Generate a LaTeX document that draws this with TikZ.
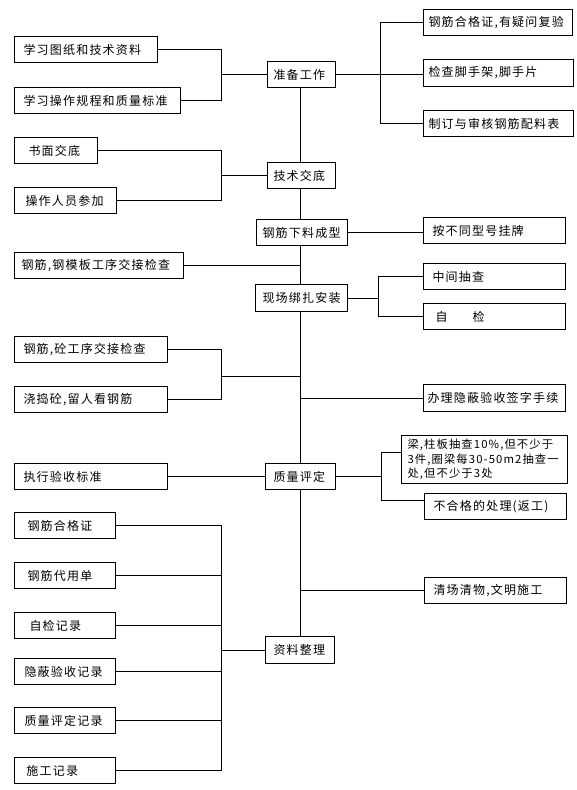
\documentclass[tikz,border=0pt]{standalone}
\usepackage{fontspec}
\setmainfont{Noto Sans CJK SC}[LetterSpace=10]
\tikzset{
  bxs/.style={draw, line width=1pt, fill=white, font=\fontsize{12}{14}\selectfont, align=left, inner ysep=1pt},
  ln/.style={line width=1pt}
}
\newcommand\mybox[7]{%
  \pgfmathsetmacro\mtw{#4-#2-2*#6}%
  \pgfmathsetmacro\mht{#5-#3}%
  \node[bxs, inner xsep=#6pt, text width=\mtw pt, minimum height=\mht pt, anchor=north west] (#1) at (#2,-#3) {#7};}
\begin{document}
\begin{tikzpicture}[x=1pt,y=1pt]
\useasboundingbox (0,0) rectangle (576,-790);
% left boxes
\mybox{a1}{14}{36}{157}{62}{9}{学习图纸和技术资料}
\mybox{a2}{14}{87}{180}{113}{9}{学习操作规程和质量标准}
\mybox{a3}{14}{137}{97}{163}{14}{书面交底}
\mybox{a4}{14}{187}{116}{213}{11}{操作人员参加}
\mybox{a5}{14}{252}{183}{278}{7}{钢筋,钢模板工序交接检查}
\mybox{a6}{14}{336}{167}{362}{9}{钢筋,砼工序交接检查}
\mybox{a7}{14}{386}{167}{412}{9}{浇捣砼,留人看钢筋}
\mybox{a8}{14}{463}{167}{489}{9}{执行验收标准}
\mybox{a9}{14}{512}{115}{538}{13}{钢筋合格证}
\mybox{a10}{14}{562}{115}{588}{13}{钢筋代用单}
\mybox{a11}{14}{612}{115}{638}{15}{自检记录}
\mybox{a12}{14}{658}{115}{684}{10}{隐蔽验收记录}
\mybox{a13}{14}{707}{115}{733}{10}{质量评定记录}
\mybox{a14}{14}{757}{115}{783}{12}{施工记录}
% centre boxes
\mybox{c1}{267}{61}{335}{87}{6}{准备工作}
\mybox{c2}{267}{162}{335}{188}{6}{技术交底}
\mybox{c3}{256}{219}{347}{245}{6}{钢筋下料成型}
\mybox{c4}{255}{284}{347}{311}{7}{现场绑扎安装}
\mybox{c5}{265}{463}{335}{489}{8}{质量评定}
\mybox{c6}{265}{636}{334}{663}{8}{资料整理}
% right boxes
\mybox{r1}{423}{9}{572}{35}{5}{钢筋合格证,有疑问复验}
\mybox{r2}{423}{59}{573}{86}{5}{检查脚手架,脚手片}
\mybox{r3}{423}{110}{573}{136}{5}{制订与审核钢筋配料表}
\mybox{r4}{423}{217}{565}{243}{9}{按不同型号挂牌}
\mybox{r5}{423}{263}{565}{289}{9}{中间抽查}
\mybox{r6}{423}{303}{565}{329}{12}{自\hspace{25pt}检}
\mybox{r7}{423}{384}{565}{411}{4}{办理隐蔽验收签字手续}
\mybox{r8}{401}{435}{567}{483}{6}{\fontsize{11.3}{14.5}\selectfont\mbox{梁,柱板抽查10\%,但不少于}\\\mbox{3件,圈梁每30-50m2抽查一}\\\mbox{处,但不少于3处}}
\mybox{r9}{424}{493}{566}{519}{9}{不合格的处理(返工)}
\mybox{r10}{424}{577}{566}{603}{9}{清场清物,文明施工}
% helper coordinates
\coordinate (bl) at (221,0);
\coordinate (sp) at (300.5,0);
\coordinate (br1) at (380,0);
\coordinate (br2) at (378,0);
\coordinate (br3) at (381,0);
\coordinate (m3) at (221,-376);
\coordinate (p8) at ([yshift=-17pt]r8.north west);
\coordinate (p9) at ([yshift=6pt]r9.west);
% spine
\draw[ln] (sp |- c1.south) -- (sp |- c2.north);
\draw[ln] (sp |- c2.south) -- (sp |- c3.north);
\draw[ln] (sp |- c3.south) -- (sp |- c4.north);
\draw[ln] (sp |- c4.south) -- (sp |- c5.north);
\draw[ln] (sp |- c5.south) -- (sp |- c6.north);
% left connectors
\draw[ln] (a1.east) -| (bl |- a2.east) -- (a2.east);
\draw[ln] (bl |- c1.west) -- (c1.west);
\draw[ln] (a3.east) -| (bl |- a4.east) -- (a4.east);
\draw[ln] (bl |- c2.west) -- (c2.west);
\draw[ln] (a5.east) -- (sp |- a5.east);
\draw[ln] (a6.east) -| (bl |- a7.east) -- (a7.east);
\draw[ln] (m3) -- (sp |- m3);
\draw[ln] (a8.east) -- (c5.west);
\draw[ln] (a9.east) -| (bl |- a14.east) -- (a14.east);
\foreach \n in {a10,a11,a12,a13} \draw[ln] (\n.east) -- (bl |- \n.east);
\draw[ln] (bl |- c6.west) -- (c6.west);
% right connectors
\draw[ln] (c1.east) -- (c1.east -| r2.west);
\draw[ln] (r1.west) -| (br1 |- r3.west) -- (r3.west);
\draw[ln] (c3.east) -- (c3.east -| r4.west);
\draw[ln] (c4.east) -- (br2 |- c4.east);
\draw[ln] (r5.west) -| (br2 |- r6.west) -- (r6.west);
\draw[ln] (sp |- r7.west) -- (r7.west);
\draw[ln] (c5.east) -- (br3 |- c5.east);
\draw[ln] (p8) -| (br3 |- p9) -- (p9);
\draw[ln] (sp |- r10.west) -- (r10.west);
\end{tikzpicture}
\end{document}
